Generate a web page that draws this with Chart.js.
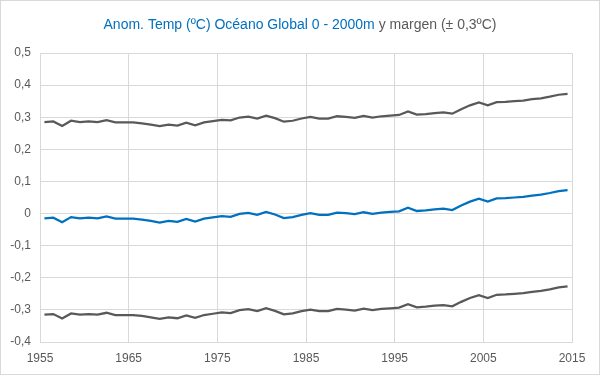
<!DOCTYPE html>
<html>
<head>
<meta charset="utf-8">
<script src="https://cdn.jsdelivr.net/npm/chart.js@4"></script>
<style>
  html, body { margin: 0; padding: 0; background: #fff; }
  #box { position: relative; width: 598px; height: 373px; border: 1px solid #d9d9d9; }
</style>
</head>
<body>
<div id="box"><canvas id="chart" width="598" height="373"></canvas></div>
<script>
// years (each value plotted mid-year)
const years = [];
for (let y = 1955; y <= 2014; y++) years.push(y);

// anomaly, ºC
const anomaly = [
  -0.015, -0.013, -0.027, -0.011, -0.015, -0.013, -0.015, -0.009, -0.016, -0.016,
  -0.016, -0.019, -0.023, -0.028, -0.023, -0.026, -0.017, -0.025, -0.016, -0.012,
  -0.008, -0.010, -0.001, 0.002, -0.004, 0.005, -0.003, -0.014, -0.011, -0.004,
  0.001, -0.004, -0.004, 0.003, 0.001, -0.002, 0.004, -0.001, 0.003, 0.005,
  0.007, 0.018, 0.008, 0.010, 0.013, 0.015, 0.011, 0.025, 0.037, 0.046,
  0.037, 0.047, 0.048, 0.050, 0.052, 0.056, 0.059, 0.064, 0.070, 0.073
];

// upper margin (+0,3)
const upper = [
  0.285, 0.287, 0.273, 0.289, 0.285, 0.287, 0.285, 0.291, 0.284, 0.284,
  0.284, 0.281, 0.277, 0.272, 0.277, 0.274, 0.283, 0.275, 0.284, 0.288,
  0.292, 0.290, 0.299, 0.302, 0.296, 0.305, 0.297, 0.286, 0.289, 0.296,
  0.301, 0.296, 0.296, 0.303, 0.301, 0.298, 0.304, 0.299, 0.303, 0.305,
  0.307, 0.318, 0.308, 0.310, 0.313, 0.315, 0.311, 0.325, 0.337, 0.346,
  0.337, 0.347, 0.348, 0.350, 0.352, 0.356, 0.359, 0.364, 0.370, 0.373
];

// lower margin (-0,3)
const lower = [
  -0.315, -0.313, -0.327, -0.311, -0.315, -0.313, -0.315, -0.309, -0.316, -0.316,
  -0.316, -0.319, -0.323, -0.328, -0.323, -0.326, -0.317, -0.325, -0.316, -0.312,
  -0.308, -0.310, -0.301, -0.298, -0.304, -0.295, -0.303, -0.314, -0.311, -0.304,
  -0.299, -0.304, -0.304, -0.297, -0.299, -0.302, -0.296, -0.301, -0.297, -0.295,
  -0.293, -0.282, -0.292, -0.290, -0.287, -0.285, -0.289, -0.275, -0.263, -0.254,
  -0.263, -0.253, -0.252, -0.250, -0.248, -0.244, -0.241, -0.236, -0.230, -0.227
];

const xTicks = [1955, 1965, 1975, 1985, 1995, 2005, 2015];

const blue = '#0070C0';
const gray = '#595959';
const fontFam = '"Liberation Sans", "DejaVu Sans", sans-serif';

function pts(arr) {
  return arr.map((v, i) => ({ x: years[i] + 0.5, y: v }));
}

// two-colour title
const titlePlugin = {
  id: 'twoTitle',
  afterDraw(chart) {
    const ctx = chart.ctx;
    const a = 'Anom. Temp (ºC) Océano Global 0 - 2000m';
    const b = ' y margen (± 0,3ºC)';
    ctx.save();
    ctx.font = '14px ' + fontFam;
    ctx.textBaseline = 'middle';
    const wa = ctx.measureText(a).width;
    const wb = ctx.measureText(b).width;
    let x = (chart.width - wa - wb) / 2;
    ctx.fillStyle = blue;
    ctx.fillText(a, x, 24);
    ctx.fillStyle = gray;
    ctx.fillText(b, x + wa, 24);
    ctx.restore();
  }
};

const ctx = document.getElementById('chart').getContext('2d');
new Chart(ctx, {
  type: 'line',
  data: {
    datasets: [
      { data: pts(upper), borderColor: gray, borderWidth: 2.25 },
      { data: pts(anomaly), borderColor: blue, borderWidth: 2.25 },
      { data: pts(lower), borderColor: gray, borderWidth: 2.25 }
    ]
  },
  options: {
    responsive: false,
    animation: false,
    pointRadius: 0,
    elements: { point: { radius: 0 }, line: { tension: 0 } },
    layout: { padding: { top: 52, right: 27, left: 0, bottom: 0 } },
    plugins: { legend: { display: false }, tooltip: { enabled: false }, title: { display: false } },
    scales: {
      x: {
        type: 'linear',
        min: 1955,
        max: 2015,
        afterBuildTicks: (s) => { s.ticks = xTicks.map(v => ({ value: v })); },
        afterFit: (s) => { s.height = 32; },
        grid: { color: '#d9d9d9', drawTicks: false },
        border: { color: '#d9d9d9' },
        ticks: {
          color: gray, padding: 9,
          font: { family: fontFam, size: 12 },
          callback: (v) => String(v)
        }
      },
      y: {
        min: -0.4,
        max: 0.5,
        afterFit: (s) => { s.width = 39; },
        grid: { color: '#d9d9d9', drawTicks: false },
        border: { color: '#d9d9d9' },
        ticks: {
          stepSize: 0.1, color: gray, padding: 9,
          font: { family: fontFam, size: 12 },
          callback: (v) => {
            const r = Math.round(v * 10) / 10;
            return r === 0 ? '0' : r.toFixed(1).replace('.', ',');
          }
        }
      }
    }
  },
  plugins: [titlePlugin]
});
</script>
</body>
</html>
